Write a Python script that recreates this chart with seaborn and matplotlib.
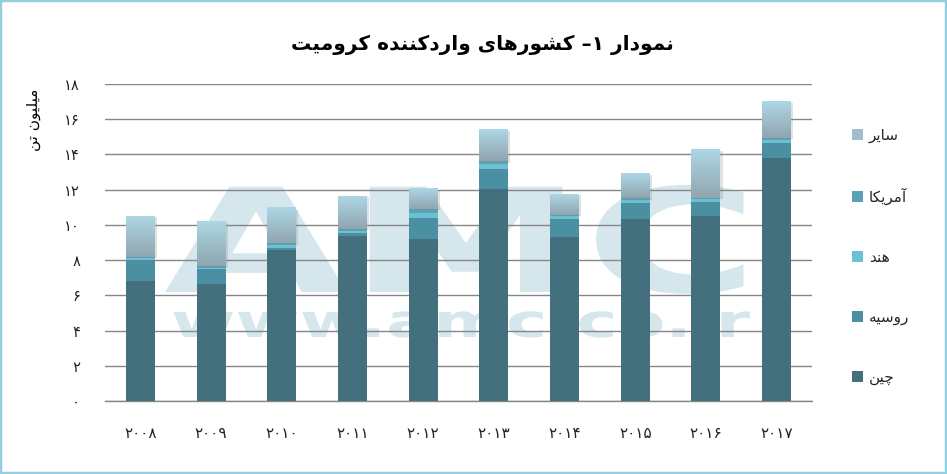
import numpy as np
import pandas as pd
import matplotlib
matplotlib.use("Agg")
import matplotlib.pyplot as plt
import seaborn as sns
from matplotlib.patches import Rectangle, Patch
import matplotlib.patheffects as pe
from matplotlib.colors import LinearSegmentedColormap
from matplotlib.transforms import Affine2D

# ---------------- data ----------------
years = ['۲۰۰۸', '۲۰۰۹', '۲۰۱۰', '۲۰۱۱', '۲۰۱۲', '۲۰۱۳', '۲۰۱۴', '۲۰۱۵', '۲۰۱۶', '۲۰۱۷']
china = [6.8, 6.65, 8.6, 9.38, 9.2, 12.05, 9.3, 10.35, 10.5, 13.8]
russia = [1.2, 0.85, 0.1, 0.15, 1.2, 1.1, 1.05, 0.9, 0.8, 0.85]
india = [0.1, 0.05, 0.15, 0.15, 0.25, 0.3, 0.15, 0.15, 0.15, 0.15]
usa = [0.08, 0.1, 0.1, 0.1, 0.25, 0.15, 0.08, 0.1, 0.1, 0.15]
others = [2.32, 2.55, 2.0, 1.87, 1.15, 1.8, 1.18, 1.4, 2.75, 2.05]
series_names = ['چین', 'روسیه', 'هند', 'آمریکا', 'سایر']
y_ticks = [0, 2, 4, 6, 8, 10, 12, 14, 16, 18]
y_tick_labels = ['۰', '۲', '۴', '۶', '۸', '۱۰', '۱۲', '۱۴', '۱۶', '۱۸']
title = 'نمودار ۱– کشورهای واردکننده کرومیت'
y_label = 'میلیون تن'
watermark_big = 'AMC'
watermark_url = 'www.amc-co.ir'

# ------------- Arabic-script shaping (presentation forms) -------------
_F = {
    'ا': ('\ufe8d', '\ufe8e', None, None),
    'آ': ('\ufe81', '\ufe82', None, None),
    'د': ('\ufea9', '\ufeaa', None, None),
    'ر': ('\ufead', '\ufeae', None, None),
    'و': ('\ufeed', '\ufeee', None, None),
    'ت': ('\ufe95', '\ufe96', '\ufe97', '\ufe98'),
    'س': ('\ufeb1', '\ufeb2', '\ufeb3', '\ufeb4'),
    'ش': ('\ufeb5', '\ufeb6', '\ufeb7', '\ufeb8'),
    'ل': ('\ufedd', '\ufede', '\ufedf', '\ufee0'),
    'م': ('\ufee1', '\ufee2', '\ufee3', '\ufee4'),
    'ن': ('\ufee5', '\ufee6', '\ufee7', '\ufee8'),
    'ه': ('\ufee9', '\ufeea', '\ufeeb', '\ufeec'),
    'ی': ('\ufbfc', '\ufbfd', '\ufbfe', '\ufbff'),
    'ک': ('\ufb8e', '\ufb8f', '\ufb90', '\ufb91'),
    'چ': ('\ufb7a', '\ufb7b', '\ufb7c', '\ufb7d'),
}


def shape(word):
    out = []
    n = len(word)
    for i, c in enumerate(word):
        if c not in _F:
            out.append(c)
            continue
        f = _F[c]
        prev = word[i - 1] if i > 0 else None
        nxt = word[i + 1] if i < n - 1 else None
        jp = prev in _F and _F[prev][2] is not None
        jn = f[2] is not None and nxt in _F
        if jp and jn:
            out.append(f[3])
        elif jp:
            out.append(f[1])
        elif jn:
            out.append(f[2])
        else:
            out.append(f[0])
    return ''.join(out)


def rtl(s):
    """Visual (left-to-right) order for a right-to-left string."""
    return ' '.join(shape(w) for w in s.split(' '))[::-1]


class HStretch(pe.AbstractPathEffect):
    """Stretch a text horizontally around a display x position."""
    def __init__(self, sx, cx):
        super().__init__()
        self.sx, self.cx = sx, cx

    def draw_path(self, renderer, gc, tpath, affine, rgbFace=None):
        a = affine + Affine2D().translate(-self.cx, 0).scale(self.sx, 1).translate(self.cx, 0)
        renderer.draw_path(gc, tpath, a, rgbFace)


# ---------------- style ----------------
sns.set_style("white")
plt.rcParams['font.family'] = ['DejaVu Sans']

W, H = 947, 474
fig = plt.figure(figsize=(W / 100, H / 100), dpi=100)
ax = fig.add_axes([105 / W, 1 - 401 / H, 707 / W, 317 / H])
ax.set_facecolor('none')

# ---------------- watermark ----------------
wm_color = '#d5e6ec'
r = fig.canvas.get_renderer()
for txt, (xl, xr), base, fs in [(watermark_big, (164, 759), 292, 104),
                                (watermark_url, (171, 751), 337, 33)]:
    cx = (xl + xr) / 2
    t = fig.text(cx / W, 1 - base / H, txt, ha='center', va='baseline', fontsize=fs,
                 fontweight='bold', color=wm_color, zorder=-5)
    wnat = t.get_window_extent(r).width
    t.set_path_effects([HStretch((xr - xl) / wnat, cx)])

# ---------------- bars ----------------
df = pd.DataFrame({'year': years, 'china': china, 'russia': russia,
                   'india': india, 'usa': usa, 'others': others})
cols = ['china', 'russia', 'india', 'usa', 'others']
colors = ['#44707d', '#4a8fa2', '#6dbfd3', '#5aa3b6', '#9dbecb']
bottom = np.zeros(len(years))
conts = []
shadow = [pe.SimplePatchShadow(offset=(1.5, -1), shadow_rgbFace='#888888', alpha=0.25), pe.Normal()]
for col, c in zip(cols, colors):
    sns.barplot(data=df, x='year', y=col, color=c, saturation=1, width=0.41,
                errorbar=None, bottom=bottom.copy(), linewidth=0, edgecolor='none',
                zorder=3, ax=ax)
    conts.append(ax.containers[-1])
    bottom += df[col].values

for p in conts[-1].patches:
    p.set_path_effects(shadow)

# gradient on "others"
grad = np.linspace(0, 1, 100).reshape(-1, 1)
cmap = LinearSegmentedColormap.from_list('g', ['#8fa6b0', '#aed6e5'])
for p in conts[-1].patches:
    x0, y0, w, h = p.get_x(), p.get_y(), p.get_width(), p.get_height()
    ax.imshow(grad, extent=(x0, x0 + w, y0, y0 + h), origin='lower', cmap=cmap,
              aspect='auto', zorder=3.2, clip_path=p, clip_on=True, interpolation='bilinear')

ax.set_xlim(-0.5, len(years) - 0.5)
ax.set_ylim(0, 18)

# ---------------- axes styling ----------------
for s in ['top', 'right', 'left']:
    ax.spines[s].set_visible(False)
ax.spines['bottom'].set_color('#868686')
ax.spines['bottom'].set_linewidth(1)
ax.yaxis.grid(True, color='#868686', linewidth=1)
ax.set_axisbelow(True)
ax.set_yticks(y_ticks)
ax.set_yticklabels(y_tick_labels)
ax.tick_params(axis='y', length=0, pad=18, labelsize=10.5, labelcolor='#222222')
ax.set_xticks(range(len(years)))
ax.set_xticklabels(years)
ax.set_xticks(np.arange(-0.5, len(years), 1), minor=True)
ax.tick_params(axis='x', which='major', length=0, pad=18, labelsize=11, labelcolor='#222222')
ax.tick_params(axis='x', which='minor', length=6, width=1, color='#868686', direction='out')
ax.set_xlabel('')
ax.set_ylabel('')

# ---------------- texts ----------------
fig.text(482 / W, 1 - 45 / H, rtl(title), ha='center', va='center', fontsize=14.5,
         fontweight='bold', color='black')
fig.text(33 / W, 1 - 120 / H, rtl(y_label), ha='center', va='center', rotation=90,
         fontsize=11, color='black')

# legend
handles = [Patch(facecolor=c, edgecolor='none') for c in colors]
labels = [rtl(n) for n in series_names]
leg = ax.legend(handles[::-1], labels[::-1], loc='upper left',
                bbox_to_anchor=(852 / W, 1 - 128 / H), bbox_transform=fig.transFigure,
                frameon=False, fontsize=11, handlelength=0.75, handleheight=0.75,
                handletextpad=0.35, labelspacing=2.93, borderaxespad=0, borderpad=0)

# border
fig.add_artist(Rectangle((0, 0), 1, 1, transform=fig.transFigure, fill=False,
                         edgecolor='#92cfe0', linewidth=3.2, zorder=10))

fig.savefig('out.png', dpi=100)
